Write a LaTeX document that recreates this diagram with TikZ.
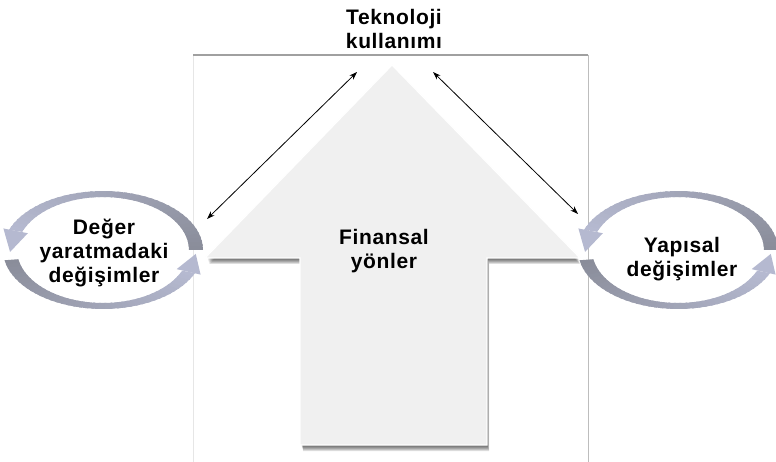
\documentclass[tikz,border=0pt]{standalone}
\usepackage{fontspec}
\setmainfont{Liberation Sans}
\usetikzlibrary{arrows.meta}
\definecolor{arrowfill}{HTML}{F0F0F0}
\definecolor{ringdark}{HTML}{8A8D9A}
\definecolor{ringlight}{HTML}{B5B9D0}
\definecolor{frametop}{HTML}{A0A0A0}
\definecolor{frameleft}{HTML}{E6E6E6}
\definecolor{frameright}{HTML}{BDBDBD}
\newcommand\ringarrow[5]{%
  \foreach \k in {0,...,39}{%
    \pgfmathsetmacro\ta{#3+(#4-#3)*\k/40}%
    \pgfmathsetmacro\tb{min(#4,#3+(#4-#3)*(\k+1.4)/40)}%
    \pgfmathsetmacro\pc{100*\k/39}%
    \fill[ringlight!\pc!ringdark]
      ({#1+100*cos(\ta)},{#2-59*sin(\ta)}) -- ({#1+100*cos(\tb)},{#2-59*sin(\tb)})
      -- ({#1+86*cos(\tb)},{#2-53*sin(\tb)}) -- ({#1+86*cos(\ta)},{#2-53*sin(\ta)}) -- cycle;
  }%
  \fill[ringlight] ({#1+106*cos(#4)},{#2-63*sin(#4)}) -- ({#1+93*cos(#5)},{#2-56*sin(#5)})
    -- ({#1+80*cos(#4)},{#2-49*sin(#4)}) -- cycle;
}
\begin{document}
\begin{tikzpicture}[x=1pt,y=-1pt,
  lbl/.style={font={\fontsize{21}{24}\selectfont\bfseries\addfontfeature{LetterSpace=3}},
    align=center, inner sep=0pt, text=black},
  link/.style={{Stealth[length=8pt,width=5.5pt]}-{Stealth[length=8pt,width=5.5pt]}, line width=0.8pt}]
\useasboundingbox (0,0) rectangle (776,462);
% frame
\draw[frameleft, line width=1pt] (193,55) -- (193,462);
\draw[frameright, line width=1pt] (588,55) -- (588,462);
\draw[frametop, line width=1.2pt] (193,55) -- (588,55);
% arrow shadow
\foreach \d in {1,...,7}{
  \fill[black, opacity=0.13, shift={(0.3*\d,\d)}]
    (392,65) -- (578,257) -- (487,257) -- (487,444) -- (301,444) -- (301,257) -- (207,257) -- cycle;
}
% big arrow
\filldraw[fill=arrowfill, draw=white, line width=1.2pt]
  (392,65) -- (580,258) -- (487,258) -- (487,445) -- (300,445) -- (300,258) -- (205,258) -- cycle;
% circular arrows
\ringarrow{103}{250}{0}{160}{182}
\ringarrow{103}{250}{190}{337}{356}
\ringarrow{678}{250}{0}{160}{182}
\ringarrow{678}{250}{190}{337}{356}
% texts
\node[lbl] (tech) at (394,29) {Teknoloji\\kullanımı};
\node[lbl] (fin) at (384,251) {Finansal\\yönler};
\node[lbl] (val) at (104,253) {Değer\\yaratmadaki\\değişimler};
\node[lbl] (str) at (682,259) {Yapısal\\değişimler};
% double arrows
\coordinate (la) at (207,219);
\coordinate (lb) at (357,72);
\coordinate (ra) at (433,72);
\coordinate (rb) at (578,214);
\draw[link] (la) -- (lb);
\draw[link] (ra) -- (rb);
\end{tikzpicture}
\end{document}
